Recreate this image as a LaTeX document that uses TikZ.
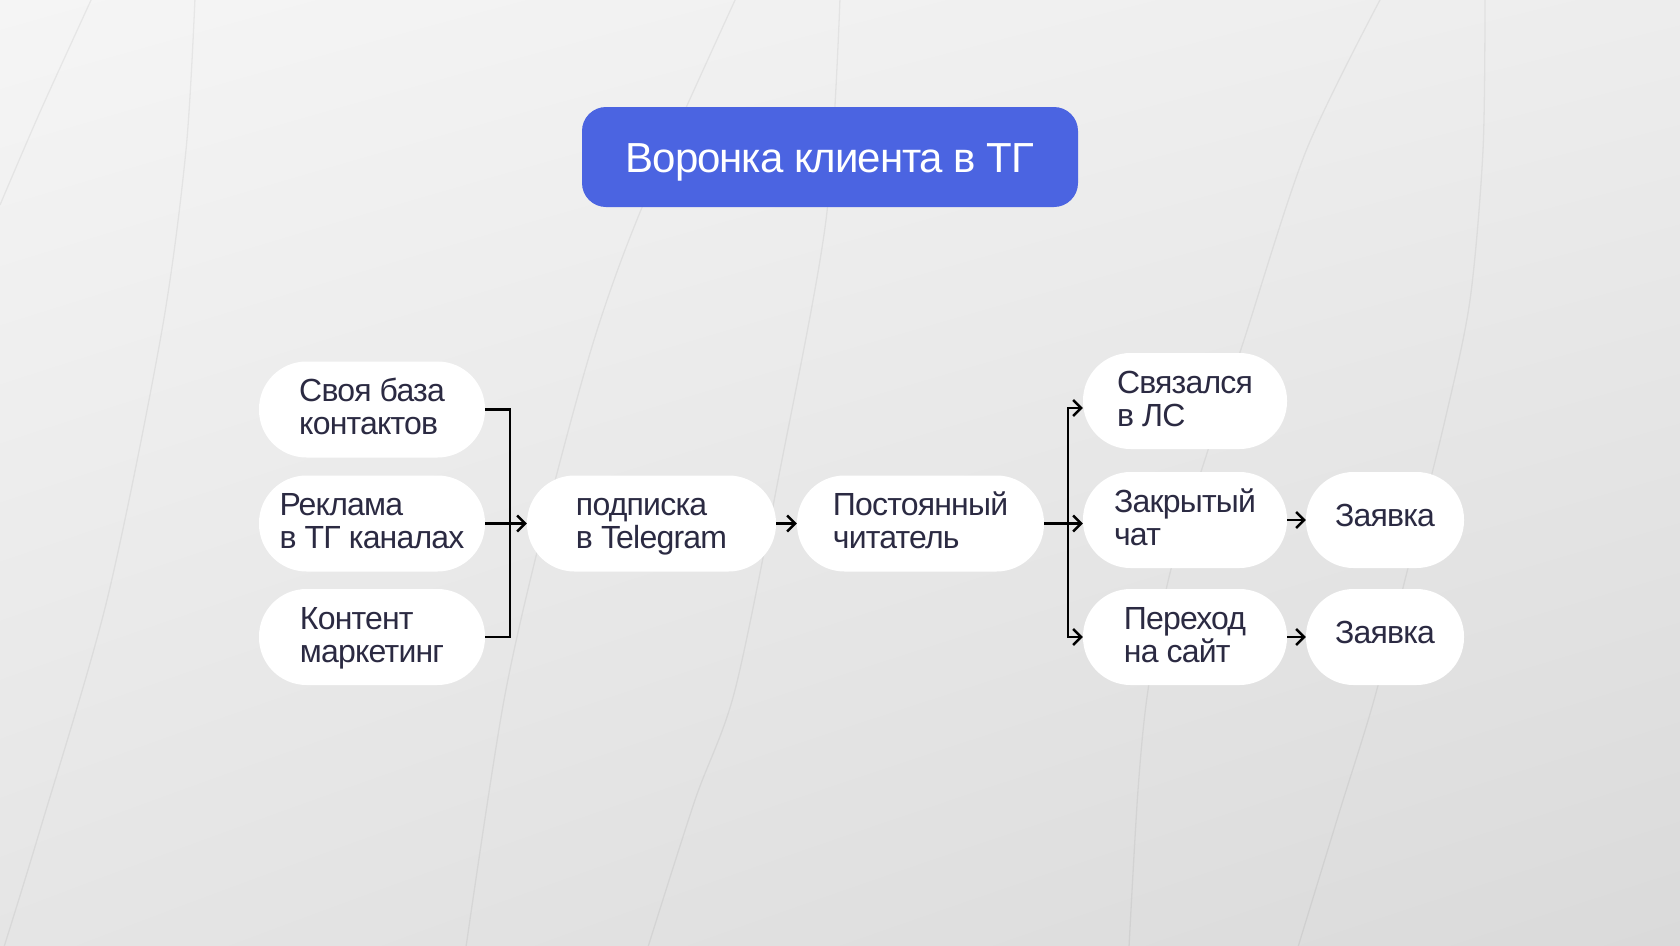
\documentclass[tikz,border=0pt]{standalone}
\usepackage{fontspec}
\setmainfont{Liberation Sans}[LetterSpace=-2.5]
\usetikzlibrary{arrows.meta, shadings}
\definecolor{titleblue}{HTML}{4B64E1}
\definecolor{inktext}{HTML}{2B2A42}
\definecolor{bgtl}{HTML}{F5F5F5}
\definecolor{bgtr}{HTML}{EDEDED}
\definecolor{bgbl}{HTML}{E5E5E5}
\definecolor{bgbr}{HTML}{DADADA}
\newcommand\lstrut{\rule[-8pt]{0pt}{33pt}}
\begin{document}
\begin{tikzpicture}[x=1pt, y=-1pt,
        pill/.style = {rectangle, fill=white, rounded corners=47.5pt, minimum height=96pt,
            inner sep=0pt, align=left, text=inktext, font=\fontsize{32}{33}\selectfont},
        bgline/.style = {black, opacity=0.055, line width=1.3pt},
        link/.style = {black, line width=2.4pt},
        arr/.style = {link, -{Straight Barb[length=8pt, width=16pt, line width=2.4pt]}}]
        \useasboundingbox (0, 0) rectangle (1680, 945);
        \shade [upper left=bgtl, upper right=bgtr, lower left=bgbl, lower right=bgbr] (0, 0) rectangle (1680, 945);
        \draw [bgline] plot [smooth] coordinates {(0, 205) (40, 112) (92, -2)};
        \draw [bgline] plot [smooth] coordinates {(195, -2) (186, 150) (162, 330) (107, 600) (40, 830) (4, 947)};
        \draw [bgline] plot [smooth] coordinates {(736, -2) (643, 205) (594, 340) (545, 520) (504, 700) (466, 947)};
        \draw [bgline] plot [smooth] coordinates {(840, -2) (826, 220) (780, 470) (735, 690) (695, 800) (648, 947)};
        \draw [bgline] plot [smooth] coordinates {(1381, -2) (1306, 151) (1244, 340) (1208, 450) (1170, 573) (1148, 690) (1138, 790) (1129, 947)};
        \draw [bgline] plot [smooth] coordinates {(1485, -2) (1483, 150) (1470, 300) (1445, 420) (1410, 560) (1374, 700) (1340, 810) (1298, 947)};
        \node [fill=titleblue, rounded corners=24pt, minimum width=496pt, minimum height=100pt, text=white,
            font=\fontsize{42}{44}\selectfont, text height=30pt, text depth=0pt] (title) at (830, 157) {Воронка клиента в ТГ};
        \node [pill, minimum width=226pt] (src1) at (372, 409.5) {\lstrut Своя база\\\lstrut контактов};
        \node [pill, minimum width=226pt] (src2) at (372, 523.5) {\lstrut Реклама\\\lstrut в ТГ каналах};
        \node [pill, minimum width=226pt] (src3) at (372, 637) {\lstrut Контент\\\lstrut маркетинг};
        \node [pill, minimum width=249pt] (sub) at (651.5, 523.5) {\lstrut подписка\\\lstrut в Telegram};
        \node [pill, minimum width=247pt] (reader) at (920.5, 523.5) {\lstrut Постоянный\\\lstrut читатель};
        \node [pill, minimum width=204pt] (dm) at (1185, 401) {\lstrut Связался\\\lstrut в ЛС};
        \node [pill, minimum width=204pt] (chat) at (1185, 520) {\lstrut Закрытый\\\lstrut чат};
        \node [pill, minimum width=204pt] (site) at (1185, 637) {\lstrut Переход\\\lstrut на сайт};
        \node [pill, minimum width=158pt] (lead1) at (1385, 520) {\strut Заявка};
        \node [pill, minimum width=158pt] (lead2) at (1385, 637) {\strut Заявка};
        \coordinate (jl) at (510, 523.5);
        \coordinate (jr) at (1068, 523.5);
        \draw [link] (src1.east) -| (jl) |- (src3.east);
        \draw [arr] (src2) -- (sub);
        \draw [arr] (sub) -- (reader);
        \draw [arr] (reader.east) -- (reader.east -| chat.west);
        \draw [arr] (jr) |- ([yshift=-7pt]dm.west);
        \draw [arr] (jr) |- (site.west);
        \draw [arr] (chat) -- (lead1);
        \draw [arr] (site) -- (lead2);
    \end{tikzpicture}
\end{document}
